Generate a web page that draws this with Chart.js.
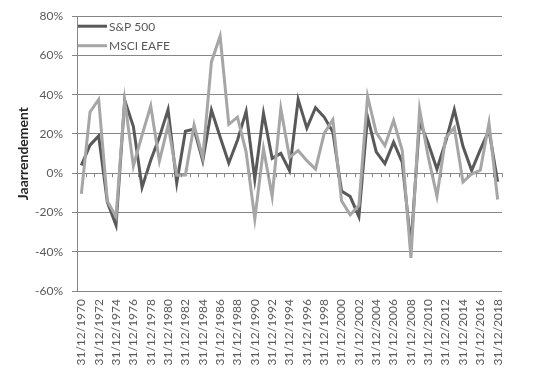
<!DOCTYPE html>
<html>
<head>
<meta charset="utf-8">
<script src="https://cdn.jsdelivr.net/npm/chart.js@4/dist/chart.umd.min.js"></script>
<style>
    body { margin: 0; background: #fff; }
    #wrap { width: 538px; height: 373px; }
</style>
</head>
<body>
<div id="wrap"><canvas id="lineChart" width="538" height="373"></canvas></div>
<script>
const years = [];
for (let y = 1970; y <= 2018; y++) years.push(`31/12/${y}`);

// annual returns in %
const sp500 = [
    4.0, 14.3, 19.0, -14.7, -26.5, 37.2, 23.8, -7.2, 6.6, 18.4,
    32.4, -4.9, 21.4, 22.5, 6.3, 32.2, 18.5, 5.2, 16.8, 31.5,
    -3.1, 30.5, 7.6, 10.1, 1.3, 37.6, 23.0, 33.4, 28.6, 21.0,
    -9.1, -11.9, -22.1, 28.7, 10.9, 4.9, 15.8, 5.5, -37.0, 26.5,
    15.1, 2.1, 16.0, 32.4, 13.7, 1.4, 12.0, 21.8, -4.4
];
const msciEafe = [
    -10.5, 31.2, 37.6, -14.2, -22.2, 37.1, 3.7, 19.4, 34.3, 6.2,
    24.4, -1.0, -0.9, 24.6, 7.9, 56.7, 69.9, 24.9, 28.6, 10.8,
    -23.2, 12.5, -11.8, 32.9, 8.1, 11.6, 6.4, 2.1, 20.3, 27.3,
    -14.0, -21.2, -16.5, 39.2, 20.7, 14.0, 26.9, 11.6, -43.1, 32.5,
    8.2, -11.7, 17.9, 23.3, -4.5, -0.4, 1.5, 25.6, -13.4
];
const yTicks = [-60, -40, -20, 0, 20, 40, 60, 80];

const FONT = 'Lato, "Open Sans", sans-serif';
const GRID = '#868686';
const TEXT = '#595959';

// small ticks on the zero line, between categories (like Excel)
const zeroTicks = {
    id: 'zeroTicks',
    afterDraw(chart) {
        const { ctx, chartArea, scales } = chart;
        const y0 = scales.y.getPixelForValue(0);
        const step = (chartArea.right - chartArea.left) / years.length;
        ctx.save();
        ctx.strokeStyle = GRID;
        ctx.lineWidth = 1;
        ctx.beginPath();
        for (let i = 0; i <= years.length; i++) {
            const x = Math.round(chartArea.left + i * step) + 0.5;
            ctx.moveTo(x, y0);
            ctx.lineTo(x, y0 + 4);
        }
        ctx.stroke();
        ctx.restore();
    }
};

// legend inside the plot, top-left
const innerLegend = {
    id: 'innerLegend',
    afterDraw(chart) {
        const { ctx, chartArea } = chart;
        ctx.save();
        ctx.font = `12px ${FONT}`;
        ctx.textBaseline = 'middle';
        chart.data.datasets.forEach((ds, i) => {
            const y = chartArea.top + 10 + i * 19.5;
            const x = chartArea.left + 1;
            ctx.strokeStyle = ds.borderColor;
            ctx.lineWidth = 3;
            ctx.beginPath();
            ctx.moveTo(x, y);
            ctx.lineTo(x + 29, y);
            ctx.stroke();
            ctx.fillStyle = TEXT;
            ctx.fillText(ds.label, x + 31, y + 0.5);
        });
        ctx.restore();
    }
};

const ctx = document.getElementById('lineChart').getContext('2d');
new Chart(ctx, {
    type: 'line',
    data: {
        labels: years,
        datasets: [
            {
                label: 'S&P 500',
                data: sp500,
                borderColor: '#595959',
                borderWidth: 3,
                pointRadius: 0,
                tension: 0,
                order: 1
            },
            {
                label: 'MSCI EAFE',
                data: msciEafe,
                borderColor: '#a6a6a6',
                borderWidth: 3,
                pointRadius: 0,
                tension: 0,
                order: 0
            }
        ]
    },
    options: {
        responsive: false,
        animation: false,
        layout: { padding: { left: 0, right: 36, top: 11, bottom: 0 } },
        plugins: {
            legend: { display: false },
            tooltip: { enabled: false }
        },
        scales: {
            x: {
                offset: true,
                grid: { display: false, drawTicks: false },
                border: { display: false },
                ticks: {
                    autoSkip: false,
                    minRotation: 90,
                    maxRotation: 90,
                    padding: 8,
                    color: TEXT,
                    font: { family: FONT, size: 12 },
                    callback: (v, i) => (i % 2 === 0 ? years[i] : '')
                },
                afterFit: scale => { scale.height = 82; }
            },
            y: {
                min: yTicks[0],
                max: yTicks[yTicks.length - 1],
                afterBuildTicks: scale => {
                    scale.ticks = yTicks.map(v => ({ value: v }));
                },
                grid: { color: GRID, tickLength: 5 },
                border: { display: true, color: GRID },
                ticks: {
                    padding: 9,
                    color: TEXT,
                    font: { family: FONT, size: 12 },
                    callback: v => `${v}%`
                },
                title: {
                    display: true,
                    text: 'Jaarrendement',
                    color: '#262626',
                    font: { family: FONT, size: 14, weight: 'bold' },
                    padding: { top: 15, bottom: 0 }
                },
                afterFit: scale => { scale.width = 77; }
            }
        }
    },
    plugins: [zeroTicks, innerLegend]
});
</script>
</body>
</html>
